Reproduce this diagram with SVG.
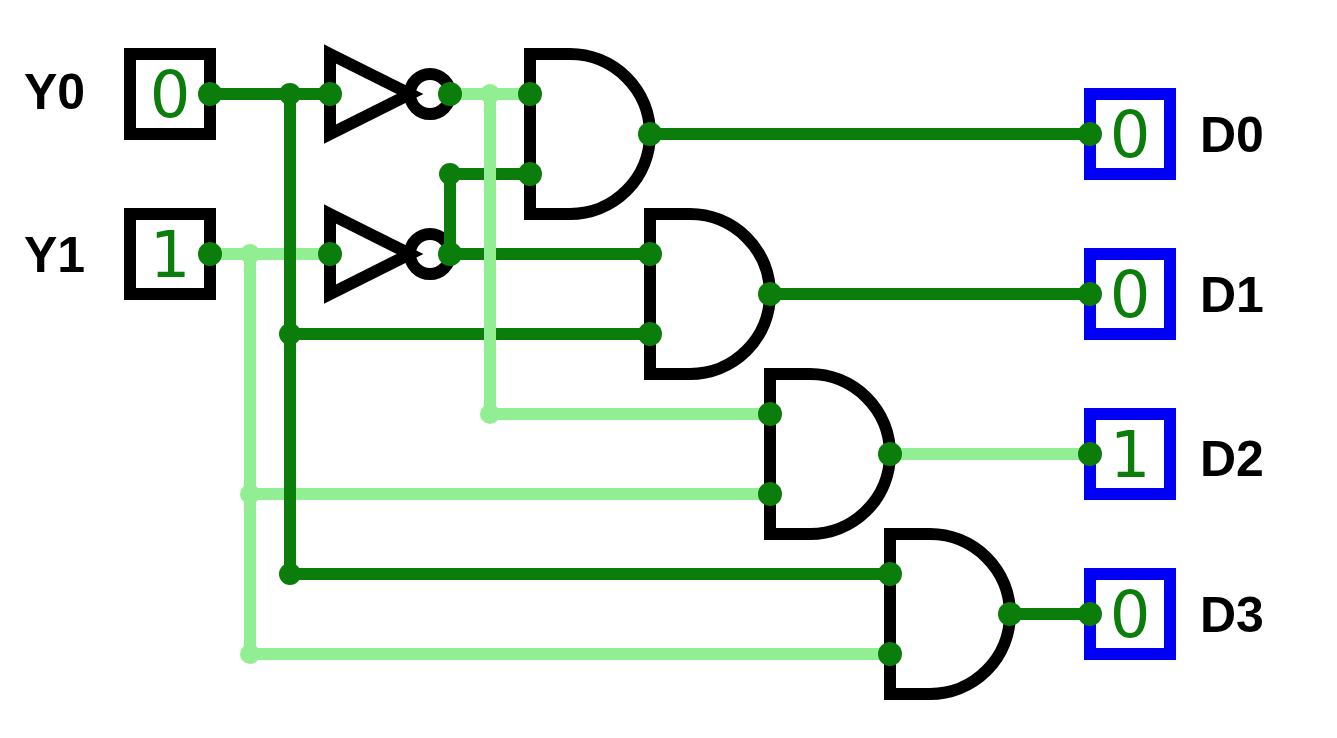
<svg xmlns="http://www.w3.org/2000/svg" width="1337" height="738" viewBox="0 0 1337 738">
<style>
.box{fill:#fff;stroke-width:12}
.in{stroke:#000}
.out{stroke:#0000f5}
.gate{fill:none;stroke:#000;stroke-width:12;stroke-miterlimit:10}
.on{fill:none;stroke:#0a7d0a;stroke-width:12}
.off{fill:none;stroke:#92ee92;stroke-width:12}
.dot{fill:#0a7d0a}
.halo{fill:#92ee92}
.lab{font-family:"Liberation Sans",Arial,sans-serif;font-weight:700;font-size:50px;fill:#000}
.val{font-family:"DejaVu Sans",sans-serif;font-size:64px;fill:#0a7d0a;text-anchor:middle}
</style>
<rect width="1337" height="738" fill="#fff"/>
<g id="input-Y0"><rect class="box in" x="130" y="54" width="80" height="80"/><text class="val" x="170" y="117">0</text><text class="lab" x="24" y="109">Y0</text></g>
<g id="input-Y1"><rect class="box in" x="130" y="214" width="80" height="80"/><text class="val" x="170" y="277">1</text><text class="lab" x="24" y="272">Y1</text></g>
<g id="not-0"><path class="gate" d="M330,54 L410,94 L330,134 Z"/><circle class="gate" cx="430" cy="94" r="20"/></g>
<g id="not-1"><path class="gate" d="M330,214 L410,254 L330,294 Z"/><circle class="gate" cx="430" cy="254" r="20"/></g>
<g id="and-0"><path class="gate" d="M570,54 H530 V214 H570 A80,80 0 0 0 570,54 Z"/></g>
<g id="and-1"><path class="gate" d="M690,214 H650 V374 H690 A80,80 0 0 0 690,214 Z"/></g>
<g id="and-2"><path class="gate" d="M810,374 H770 V534 H810 A80,80 0 0 0 810,374 Z"/></g>
<g id="and-3"><path class="gate" d="M930,534 H890 V694 H930 A80,80 0 0 0 930,534 Z"/></g>
<g id="output-D0"><rect class="box out" x="1090" y="94" width="80" height="80"/><text class="val" x="1130" y="157">0</text><text class="lab" x="1200" y="152">D0</text></g>
<g id="output-D1"><rect class="box out" x="1090" y="254" width="80" height="80"/><text class="val" x="1130" y="317">0</text><text class="lab" x="1200" y="312">D1</text></g>
<g id="output-D2"><rect class="box out" x="1090" y="414" width="80" height="80"/><text class="val" x="1130" y="477">1</text><text class="lab" x="1200" y="476">D2</text></g>
<g id="output-D3"><rect class="box out" x="1090" y="574" width="80" height="80"/><text class="val" x="1130" y="637">0</text><text class="lab" x="1200" y="632">D3</text></g>
<g id="connectors">
<path class="off" d="M210,254 H330 M250,254 V654 H890 M250,494 H770"/>
<path class="on" d="M210,94 H330 M290,94 V574 H890 M290,334 H650 M450,254 V174 H530 M450,254 H650 M650,134 H1090 M770,294 H1090 M1010,614 H1090"/>
<path class="off" d="M450,94 H530 M490,94 V414 H770 M890,454 H1090"/>
<circle class="halo" cx="250" cy="254" r="10"/><circle class="halo" cx="490" cy="94" r="10"/>
<circle class="halo" cx="250" cy="494" r="10"/><circle class="halo" cx="250" cy="654" r="10"/><circle class="halo" cx="490" cy="414" r="10"/>
<circle class="dot" cx="290" cy="94" r="11"/><circle class="dot" cx="290" cy="334" r="11"/><circle class="dot" cx="290" cy="574" r="11"/><circle class="dot" cx="450" cy="174" r="11"/>
<g class="dot">
<circle cx="210" cy="94" r="12"/><circle cx="330" cy="94" r="12"/><circle cx="450" cy="94" r="12"/><circle cx="530" cy="94" r="12"/><circle cx="530" cy="174" r="12"/><circle cx="650" cy="134" r="12"/>
<circle cx="210" cy="254" r="12"/><circle cx="330" cy="254" r="12"/><circle cx="450" cy="254" r="12"/><circle cx="650" cy="254" r="12"/><circle cx="650" cy="334" r="12"/><circle cx="770" cy="294" r="12"/>
<circle cx="770" cy="414" r="12"/><circle cx="770" cy="494" r="12"/><circle cx="890" cy="454" r="12"/><circle cx="890" cy="574" r="12"/><circle cx="890" cy="654" r="12"/><circle cx="1010" cy="614" r="12"/>
<circle cx="1090" cy="134" r="12"/><circle cx="1090" cy="294" r="12"/><circle cx="1090" cy="454" r="12"/><circle cx="1090" cy="614" r="12"/>
</g>
</g>
</svg>
